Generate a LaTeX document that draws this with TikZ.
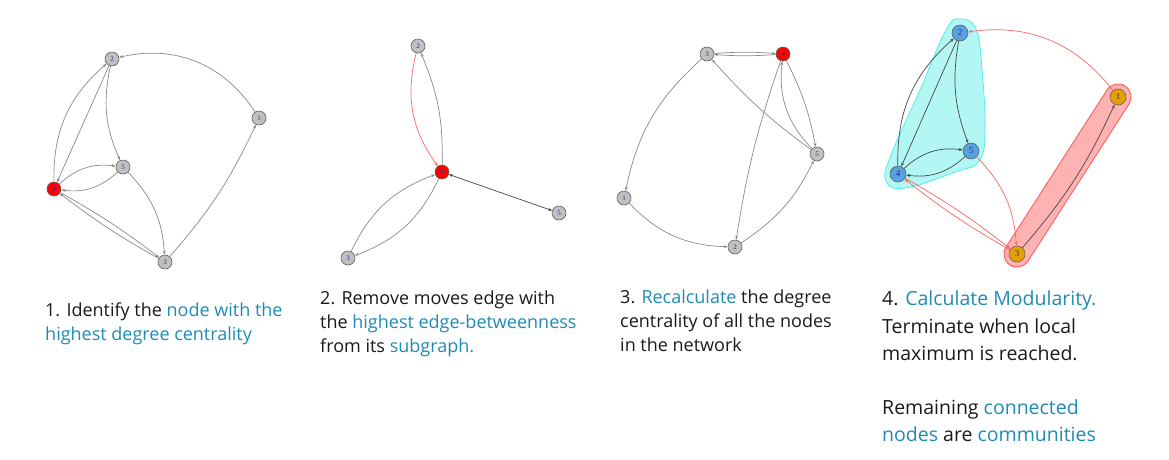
\documentclass[tikz,border=0pt]{standalone}
\usepackage{fontspec}
\setmainfont{Open Sans}
\newfontfamily\lblfont{Liberation Serif}
\usetikzlibrary{arrows.meta,backgrounds}
\definecolor{txtblue}{HTML}{1F8BB5}
\definecolor{txtblack}{HTML}{1A1A1A}
\definecolor{ngray}{HTML}{C0C0C0}
\definecolor{nborder}{HTML}{606060}
\definecolor{egray}{HTML}{8A8A8A}
\definecolor{edark}{HTML}{454545}
\definecolor{ered}{HTML}{FF6464}
\definecolor{nblue}{HTML}{56A2DE}
\definecolor{norange}{HTML}{E6A000}
\definecolor{hullcyan}{HTML}{B2F7F3}
\definecolor{hullcyanb}{HTML}{50EEEE}
\definecolor{hullred}{HTML}{FFB2B2}
\definecolor{hullredb}{HTML}{FF5A5A}
\definecolor{lblblue}{HTML}{2A2AA0}
\newcommand{\hb}[1]{\textcolor{txtblue}{#1}}
\begin{document}
\begin{tikzpicture}[x=1pt,y=-1pt,
 vtx/.style={circle, minimum size=14pt, inner sep=0pt, draw=nborder, line width=0.6pt, fill=ngray, font=\lblfont\fontsize{7}{7}\selectfont, text=lblblue},
 redv/.style={vtx, fill=red},
 bluev/.style={vtx, minimum size=16pt, fill=nblue, font=\lblfont\fontsize{9}{9}\selectfont},
 orv/.style={vtx, minimum size=16pt, fill=norange, text=black!80, font=\lblfont\fontsize{9}{9}\selectfont},
 edge/.style={draw=egray, line width=0.7pt, -{Stealth[length=4pt,width=3pt]}},
 dedge/.style={edge, draw=edark},
 redge/.style={edge, draw=ered},
 txt/.style={anchor=base west, inner sep=0pt, font=\fontsize{18}{20}\selectfont, text=txtblack},
 txtb/.style={txt, font=\fontsize{19.5}{24}\selectfont}
]
\useasboundingbox (0,0) rectangle (1169,459);

% ---------- Graph 1 ----------
\node[vtx]  (a2) at (112,59)  {2};
\node[vtx]  (a1) at (259,118) {1};
\node[vtx]  (a5) at (123,167) {5};
\node[redv] (a4) at (54,189)  {4};
\node[vtx]  (a3) at (165,262) {3};
\draw[edge] (a1) to[bend right=35] (a2);
\draw[edge] (a3) to[bend right=8] (a1);
\draw[edge] (a2) to[bend right=18] (a5);
\draw[edge] (a4) to[bend left=25] (a2);
\draw[edge] (a2) to (a4);
\draw[edge] (a4) to[bend left=25] (a5);
\draw[edge] (a5) to[bend left=25] (a4);
\draw[edge] (a5) to[bend left=20] (a3);
\draw[edge] (a4) to[bend left=4] (a3);
\draw[edge] (a3) to[bend left=4] (a4);

% ---------- Graph 2 ----------
\node[vtx]  (b2) at (418,46)  {2};
\node[redv] (b4) at (442,172) {4};
\node[vtx]  (b3) at (348,258) {3};
\node[vtx]  (b5) at (559,213) {5};
\draw[redge] (b2) to[bend right=25] (b4);
\draw[edge] (b4) to[bend right=12] (b2);
\draw[dedge, {Stealth[length=4pt,width=3pt]}-{Stealth[length=4pt,width=3pt]}] (b4) to (b5);
\draw[edge] (b3) to[bend left=22] (b4);
\draw[edge] (b4) to[bend left=22] (b3);

% ---------- Graph 3 ----------
\node[vtx]  (c3) at (707,54)  {3};
\node[redv] (c4) at (783,54)  {4};
\node[vtx]  (c5) at (817,154) {5};
\node[vtx]  (c1) at (624,198) {1};
\node[vtx]  (c2) at (735,247) {2};
\draw[edge] (c4) to[bend left=4] (c3);
\draw[edge] (c3) to[bend left=4] (c4);
\draw[edge] (c3) to[bend right=18] (c1);
\draw[edge] (c1) to[bend right=22] (c2);
\draw[edge] (c2) to[bend right=15] (c5);
\draw[edge] (c4) to[bend right=5] (c2);
\draw[edge] (c5) to[bend left=6] (c3);
\draw[edge] (c5) to[bend left=25] (c4);
\draw[edge] (c4) to[bend left=8] (c5);

% ---------- Graph 4 ----------
\draw[fill=hullcyan, draw=hullcyanb, line width=0.8pt] plot[smooth cycle, tension=0.7] coordinates {(960,19) (976,29) (982,70) (985,130) (979,161) (955,172) (905,188) (886,181) (891,155) (920,90) (946,30)};
\draw[line width=27pt, line cap=round, draw=hullredb] (1017,254) -- (1118,97);
\draw[line width=25pt, line cap=round, draw=hullred] (1017,254) -- (1118,97);
\node[bluev] (d2) at (960,33)  {2};
\node[orv]   (d1) at (1118,97) {1};
\node[bluev] (d5) at (971,151) {5};
\node[bluev] (d4) at (898,174) {4};
\node[orv]   (d3) at (1017,254) {3};
\draw[redge] (d1) to[bend right=30] (d2);
\draw[dedge] (d3) to[bend right=8] (d1);
\draw[dedge] (d2) to[bend right=15] (d5);
\draw[dedge] (d4) to[bend left=25] (d2);
\draw[dedge] (d2) to (d4);
\draw[dedge] (d4) to[bend left=25] (d5);
\draw[dedge] (d5) to[bend left=25] (d4);
\draw[redge] (d5) to[bend left=20] (d3);
\draw[redge] (d4) to[bend left=4] (d3);
\draw[redge] (d3) to[bend left=4] (d4);

% ---------- Texts ----------
\node[txt] (t1a) at (45,316) {1. Identify the \hb{node with the}};
\node[txt] (t1b) at (45,340) {\hb{highest degree centrality}};

\node[txt] (t2a) at (320,304) {2. Remove moves edge with};
\node[txt] (t2b) at (320,328) {the \hb{highest edge-betweenness}};
\node[txt] (t2c) at (320,352) {from its \hb{subgraph.}};

\node[txt] (t3a) at (620,303) {3. \hb{Recalculate} the degree};
\node[txt] (t3b) at (620,327) {centrality of all the nodes};
\node[txt] (t3c) at (620,351) {in the network};

\node[txtb] (t4a) at (882,305) {4. \hb{Calculate Modularity.}};
\node[txtb] (t4b) at (882,333) {Terminate when local};
\node[txtb] (t4c) at (882,360) {maximum is reached.};
\node[txtb] (t4d) at (882,414) {Remaining \hb{connected}};
\node[txtb] (t4e) at (882,441) {\hb{nodes} are \hb{communities}};
\end{tikzpicture}
\end{document}
